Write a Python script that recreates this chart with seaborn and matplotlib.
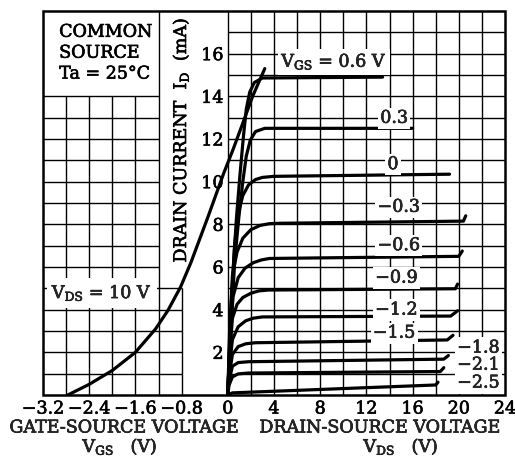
import matplotlib
matplotlib.use("Agg")
import matplotlib.pyplot as plt
import matplotlib.patheffects as pe
from matplotlib.patches import Rectangle
import numpy as np
import pandas as pd
import seaborn as sns

# ---------------- data ----------------
# transfer characteristic, VDS = 10 V  (gate-source voltage V, drain current mA)
vgs_transfer = [-2.77, -2.4, -2.0, -1.6, -1.25, -1.04, -0.82, -0.64, -0.35, -0.07, 0.09, 0.22, 0.43, 0.64]
id_transfer = [0.0, 0.5, 1.15, 2.0, 3.1, 3.95, 5.05, 6.2, 8.3, 10.4, 11.5, 12.45, 14.0, 15.3]

# output characteristics (drain-source voltage V, drain current mA)
vds_p06 = [0, 0.25, 0.5, 0.75, 1.05, 1.35, 1.6, 1.9, 2.3, 3.0, 13.4]
id_p06 = [0, 3.3, 6.2, 8.3, 10.3, 12.1, 13.4, 14.2, 14.65, 14.86, 14.9]
vds_p03 = [0, 0.3, 0.6, 0.95, 1.3, 1.6, 1.95, 2.4, 3.2, 16.0]
id_p03 = [0, 3.4, 6.3, 8.3, 10.0, 11.2, 11.95, 12.35, 12.5, 12.5]
vds_0 = [0, 0.3, 0.6, 0.9, 1.3, 1.8, 2.4, 3.0, 4.0, 19.2]
id_0 = [0, 4.3, 7.1, 8.5, 9.35, 9.85, 10.1, 10.2, 10.25, 10.35]
vds_m03 = [0, 0.15, 0.4, 0.8, 1.3, 2.0, 2.8, 3.6, 4.5, 20.4, 20.6]
id_m03 = [0, 2.9, 5.6, 6.7, 7.35, 7.75, 7.95, 8.03, 8.05, 8.15, 8.4]
vds_m06 = [0, 0.15, 0.45, 0.9, 1.5, 2.2, 2.9, 3.6, 20.0, 20.3]
id_m06 = [0, 2.3, 4.6, 5.5, 5.95, 6.2, 6.33, 6.4, 6.5, 6.75]
vds_m09 = [0, 0.12, 0.4, 0.8, 1.3, 2.0, 2.7, 3.5, 19.7, 19.9]
id_m09 = [0, 1.6, 3.6, 4.25, 4.57, 4.77, 4.88, 4.92, 4.98, 5.2]
vds_m12 = [0, 0.12, 0.4, 0.9, 1.55, 2.2, 3.0, 19.3, 19.9]
id_m12 = [0, 1.2, 2.6, 3.2, 3.48, 3.6, 3.66, 3.7, 3.95]
vds_m15 = [0, 0.1, 0.4, 0.9, 1.55, 2.4, 19.0, 19.5]
id_m15 = [0, 0.85, 1.9, 2.27, 2.4, 2.45, 2.58, 2.8]
vds_m18 = [0, 0.1, 0.4, 0.9, 1.8, 18.7, 19.1]
id_m18 = [0, 0.65, 1.35, 1.52, 1.56, 1.68, 1.85]
vds_m21 = [0, 0.1, 0.4, 0.9, 1.8, 18.4, 18.7]
id_m21 = [0, 0.45, 0.85, 0.99, 1.03, 1.1, 1.28]
vds_m25 = [0, 0.4, 18.0, 18.2]
id_m25 = [0, 0.1, 0.47, 0.6]

curve_labels = ["0.3", "0", "\u22120.3", "\u22120.6", "\u22120.9", "\u22121.2", "\u22121.5",
                "\u22121.8", "\u22122.1", "\u22122.5"]

x_tick_vals = [-16, -12, -8, -4, 0, 4, 8, 12, 16, 20, 24]
x_tick_labels = ["\u22123.2", "\u22122.4", "\u22121.6", "\u22120.8", "0", "4", "8", "12", "16", "20", "24"]
y_tick_vals = [2, 4, 6, 8, 10, 12, 14, 16]

# the gate side of the shared axis: 0.4 V spans the same width as 2 V on the drain side
VGS_SCALE = 5.0

# ---------------- build long table ----------------
frames = [pd.DataFrame({"u": np.array(vgs_transfer) * VGS_SCALE, "id": id_transfer, "curve": "transfer"})]
for name, xs, ys in [("0.6", vds_p06, id_p06), ("0.3", vds_p03, id_p03), ("0", vds_0, id_0),
                     ("-0.3", vds_m03, id_m03), ("-0.6", vds_m06, id_m06), ("-0.9", vds_m09, id_m09),
                     ("-1.2", vds_m12, id_m12), ("-1.5", vds_m15, id_m15), ("-1.8", vds_m18, id_m18),
                     ("-2.1", vds_m21, id_m21), ("-2.5", vds_m25, id_m25)]:
    frames.append(pd.DataFrame({"u": xs, "id": ys, "curve": name}))
df = pd.concat(frames, ignore_index=True)

# ---------------- figure ----------------
sns.set_theme(style="white")
plt.rcParams["font.family"] = ["DejaVu Serif"]
plt.rcParams["mathtext.fontset"] = "dejavuserif"
FS = 12.6
THICK = [pe.withStroke(linewidth=0.45, foreground="black")]

W, H = 515, 463
fig = plt.figure(figsize=(W / 100, H / 100), dpi=100)
ax = fig.add_axes([43 / W, 1 - 395 / H, (505 - 43) / W, (395 - 11) / H])

XMIN, XMAX, YMAX = -16, 24, 18
glw = 1.0
# grid (with the blank areas of the original left open)
for u in range(-14, 24, 2):
    if u == -2:
        continue
    if u == -4:
        ax.vlines(u, 0, 5, color="black", lw=glw, zorder=1)
    elif u <= -8:
        ax.vlines(u, 0, 14, color="black", lw=glw, zorder=1)
    else:
        ax.vlines(u, 0, YMAX, color="black", lw=glw, zorder=1)
for y in range(1, YMAX):
    ax.hlines(y, 0, XMAX, color="black", lw=glw, zorder=1)
    if y <= 5:
        ax.hlines(y, XMIN, -4, color="black", lw=glw, zorder=1)
    elif y <= 14:
        ax.hlines(y, XMIN, -6, color="black", lw=glw, zorder=1)

sns.lineplot(data=df, x="u", y="id", units="curve", estimator=None, sort=False,
             color="black", lw=2.3, ax=ax, legend=False, zorder=5)

ax.set_xlim(XMIN, XMAX)
ax.set_ylim(0, YMAX)
ax.set_xlabel("")
ax.set_ylabel("")

for s in ["top", "right", "bottom"]:
    ax.spines[s].set_visible(False)
ax.spines["left"].set_position(("data", 0))
ax.spines["left"].set_visible(False)
ax.add_patch(Rectangle((0, 0), 1, 1, transform=ax.transAxes, fill=False, lw=1.8,
                       edgecolor="black", clip_on=False, zorder=10))

ax.set_xticks(x_tick_vals)
ax.set_xticklabels(x_tick_labels)
ax.set_yticks(y_tick_vals)
ax.set_yticklabels([str(v) for v in y_tick_vals])
ax.tick_params(axis="x", length=0, pad=4, labelsize=FS, colors="black")
ax.tick_params(axis="y", length=0, pad=3, labelsize=FS, colors="black")
for lab in ax.get_xticklabels() + ax.get_yticklabels():
    lab.set_path_effects(THICK)

# texts
ax.text(-14.6, 17.4, "COMMON\nSOURCE\nTa = 25\u00b0C", ha="left", va="top", fontsize=FS,
        linespacing=1.3, color="black", path_effects=THICK)
ax.text(-4.05, 11.95, "DRAIN CURRENT  I$_\\mathrm{D}$  (mA)", rotation=90, ha="center",
        va="center", fontsize=FS, color="black", path_effects=THICK)

box = dict(facecolor="white", edgecolor="none", pad=1.5)
ax.text(-10.9, 4.78, "V$_\\mathrm{DS}$ = 10 V", ha="center", va="center", fontsize=FS,
        bbox=dict(facecolor="white", edgecolor="none", boxstyle="square,pad=0.3"), zorder=4,
        path_effects=THICK)
ax.text(9.2, 15.6, "V$_\\mathrm{GS}$ = 0.6 V", ha="center", va="center", fontsize=FS,
        bbox=dict(facecolor="white", edgecolor="none", pad=2.5), zorder=6, path_effects=THICK)
label_pos = [(14.4, 12.97), (14.3, 10.8), (14.8, 8.8), (14.8, 7.0), (14.6, 5.48), (14.6, 3.98),
             (14.4, 2.9), (21.7, 2.2), (21.7, 1.4), (21.7, 0.56)]
for (lx, ly), lab in zip(label_pos, curve_labels):
    ax.text(lx, ly, lab, ha="center", va="center", fontsize=FS, bbox=box, zorder=6,
            path_effects=THICK)

fig.text(124 / W, 1 - 428 / H, "GATE-SOURCE VOLTAGE", ha="center", va="center", fontsize=FS,
         path_effects=THICK)
fig.text(120 / W, 1 - 447 / H, "V$_\\mathrm{GS}$   (V)", ha="center", va="center", fontsize=FS,
         path_effects=THICK)
fig.text(380 / W, 1 - 428 / H, "DRAIN-SOURCE VOLTAGE", ha="center", va="center", fontsize=FS,
         path_effects=THICK)
fig.text(401 / W, 1 - 447 / H, "V$_\\mathrm{DS}$   (V)", ha="center", va="center", fontsize=FS,
         path_effects=THICK)

fig.savefig("out.png", dpi=100, facecolor="white")
